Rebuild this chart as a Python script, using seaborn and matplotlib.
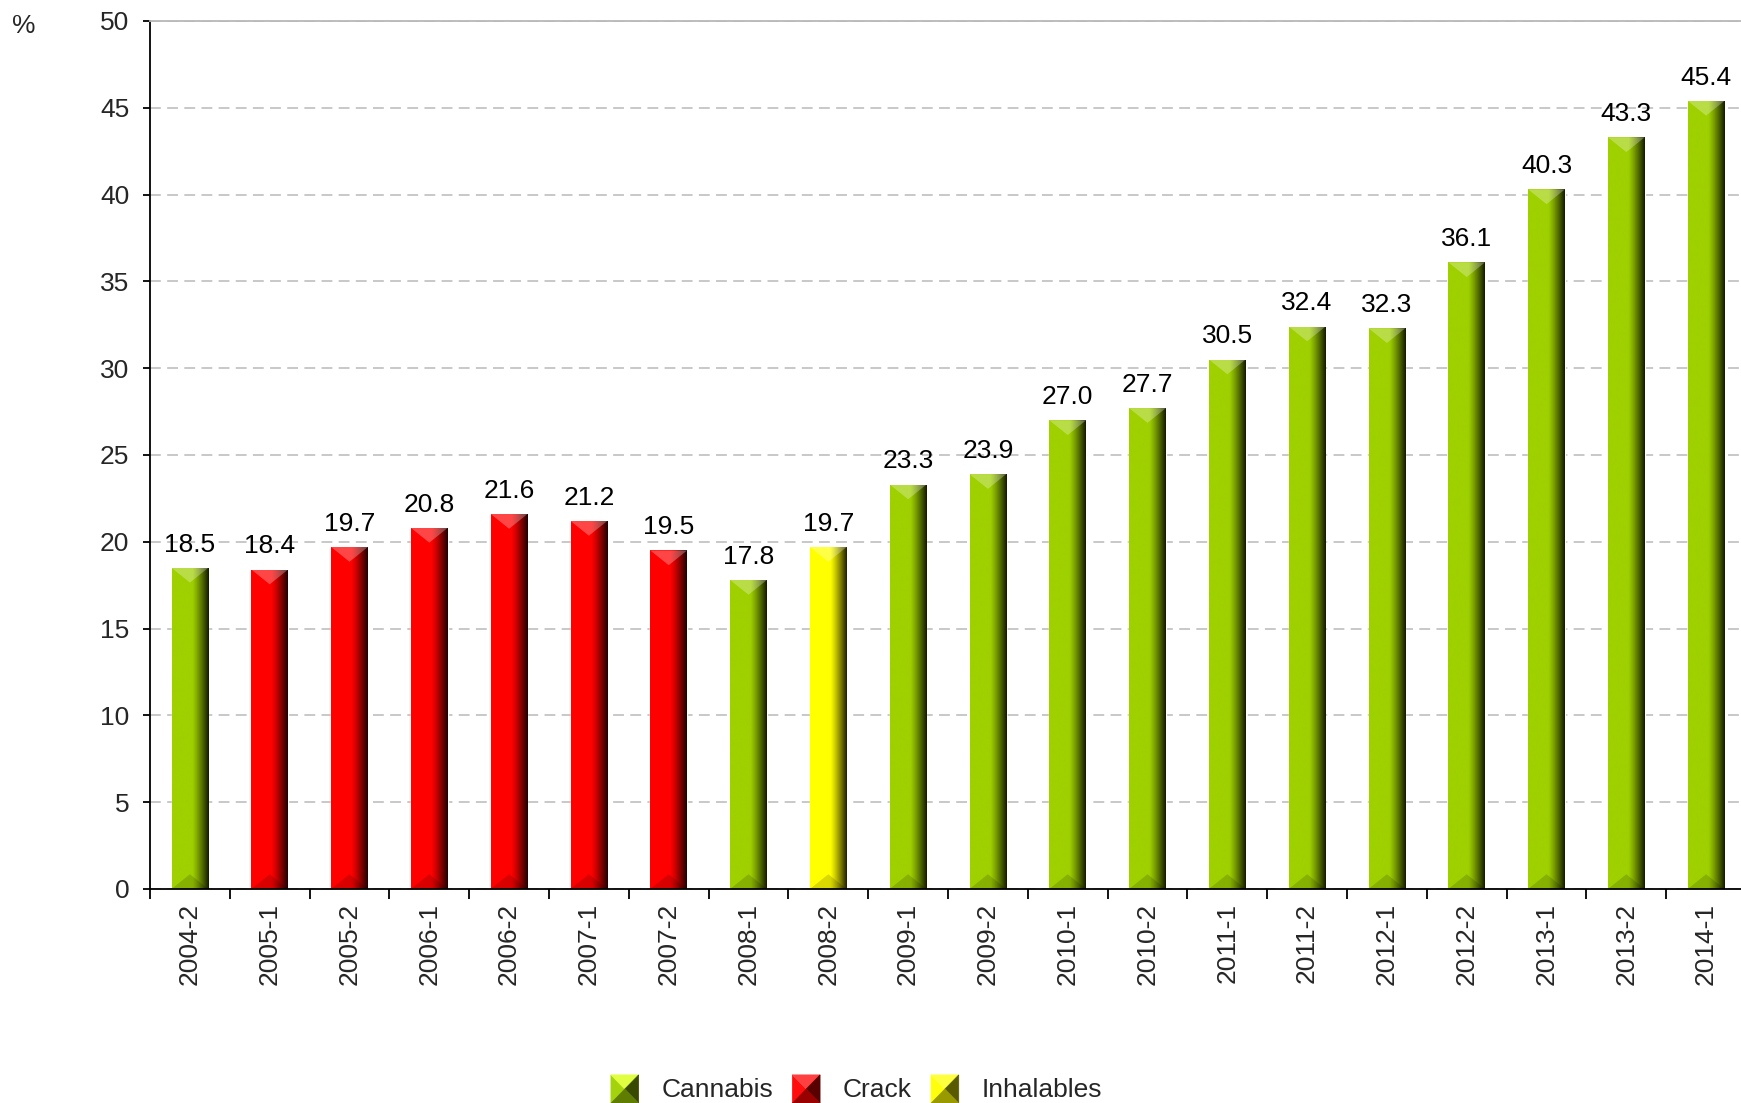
import numpy as np
import pandas as pd
import matplotlib
matplotlib.use("Agg")
import matplotlib.pyplot as plt
from matplotlib.colors import to_rgb
from matplotlib.patches import Polygon, Patch
from matplotlib.legend_handler import HandlerBase
import seaborn as sns

# data
periods = ["2004-2", "2005-1", "2005-2", "2006-1", "2006-2", "2007-1", "2007-2",
           "2008-1", "2008-2", "2009-1", "2009-2", "2010-1", "2010-2", "2011-1",
           "2011-2", "2012-1", "2012-2", "2013-1", "2013-2", "2014-1"]
values = [18.5, 18.4, 19.7, 20.8, 21.6, 21.2, 19.5, 17.8, 19.7, 23.3,
          23.9, 27.0, 27.7, 30.5, 32.4, 32.3, 36.1, 40.3, 43.3, 45.4]
substance = ["Cannabis", "Crack", "Crack", "Crack", "Crack", "Crack", "Crack",
             "Cannabis", "Inhalables", "Cannabis", "Cannabis", "Cannabis", "Cannabis",
             "Cannabis", "Cannabis", "Cannabis", "Cannabis", "Cannabis", "Cannabis",
             "Cannabis"]
substances = ["Cannabis", "Crack", "Inhalables"]
colors = {"Cannabis": "#9fd000", "Crack": "#ff0000", "Inhalables": "#ffff00"}

FS = 19

sns.set_theme(style="white")
plt.rcParams['font.family'] = ['Liberation Sans', 'DejaVu Sans']

W, H = 1741, 1103
fig = plt.figure(figsize=(W / 100, H / 100), dpi=100)
ax = fig.add_axes([150 / W, 1 - 889 / H, 1596 / W, 868 / H])

df = pd.DataFrame({"period": periods, "value": values, "substance": substance})
sns.barplot(data=df, x="period", y="value", hue="substance", hue_order=substances,
            order=periods, palette=colors, dodge=False, width=0.46, saturation=1,
            legend=False, ax=ax)

# horizontal shading of the pseudo-3D bars
t = np.linspace(0, 1, 200)
shade = np.where(t < 0.55, 1.0, 1.0 - 0.88 * ((t - 0.55) / 0.45) ** 1.2)
bevel = 0.85

for p in list(ax.patches):
    h = p.get_height()
    if not h or np.isnan(h):
        continue
    x0, w = p.get_x(), p.get_width()
    base = np.array(to_rgb(p.get_facecolor()))
    img = base[None, None, :] * shade[None, :, None]
    im = ax.imshow(img, extent=[x0, x0 + w, 0, h], aspect='auto',
                   interpolation='bilinear', zorder=2)
    im.set_clip_path(p)
    top = Polygon([(x0, h), (x0 + w, h), (x0 + w / 2, h - bevel)],
                  closed=True, facecolor='white', alpha=0.28, lw=0, zorder=3)
    ax.add_patch(top)
    bot = Polygon([(x0, 0), (x0 + w, 0), (x0 + w / 2, bevel)],
                  closed=True, facecolor='black', alpha=0.15, lw=0, zorder=3)
    ax.add_patch(bot)

for i, v in enumerate(values):
    ax.annotate(f"{v:.1f}", (i, v), xytext=(0, 8), textcoords='offset points',
                ha='center', va='bottom', fontsize=FS, color='black', zorder=5)

ax.set_xlim(-0.5, len(periods) - 0.5)
ax.set_ylim(0, 50)
ax.set_yticks(range(0, 51, 5))
ax.set_xticks(range(len(periods)))
ax.set_xticklabels(periods, rotation=90, va='top', ha='center')
ax.set_xticks(np.arange(-0.5, len(periods), 1), minor=True)
ax.set_xlabel("")
ax.set_ylabel("")

ax.tick_params(axis='x', which='major', length=0, pad=10, labelsize=FS, bottom=True)
ax.tick_params(axis='x', which='minor', length=7, width=1.3, color='black',
               direction='out', bottom=True)
ax.tick_params(axis='y', length=5, width=1.3, color='black', pad=10,
               labelsize=FS, left=True, direction='out')

ax.set_axisbelow(True)
ax.yaxis.grid(True, linestyle=(0, (6, 3.5)), color='#c4c4c4', lw=1.3)
for s in ["left", "bottom"]:
    ax.spines[s].set_color('black')
    ax.spines[s].set_linewidth(1.3)
ax.spines["top"].set_color('#b8b8b8')
ax.spines["top"].set_linewidth(1.3)
ax.spines["right"].set_visible(False)

fig.text(24 / W, 1 - 26 / H, "%", ha='center', va='center', fontsize=FS)


class BevelHandler(HandlerBase):
    def create_artists(self, legend, orig_handle, xdescent, ydescent,
                       width, height, fontsize, trans):
        c = np.array(to_rgb(orig_handle.get_facecolor()))
        x0, y0 = -xdescent, -ydescent - 0.15 * height
        height = height * 1.2
        cx, cy = x0 + width / 2, y0 + height / 2
        corners = [(x0, y0), (x0, y0 + height), (x0 + width, y0 + height), (x0 + width, y0)]
        faces = [
            (corners[0], corners[1], np.clip(c * 0.95 + 0.05, 0, 1)),   # left
            (corners[1], corners[2], np.clip(c + 0.25, 0, 1)),          # top
            (corners[2], corners[3], c * 0.35),                         # right
            (corners[3], corners[0], c * 0.6),                          # bottom
        ]
        arts = []
        for a, b, col in faces:
            poly = Polygon([a, b, (cx, cy)], closed=True, facecolor=col,
                           edgecolor=col, lw=0.5, transform=trans)
            arts.append(poly)
        return arts


handles = [Patch(facecolor=colors[s], label=s) for s in substances]
fig.legend(handles=handles, labels=substances, loc='center',
           bbox_to_anchor=(0.492, 1 - 1089 / H), ncol=3, frameon=False,
           fontsize=FS, handlelength=1.05, handleheight=1.0,
           handletextpad=0.87, columnspacing=0.72,
           handler_map={Patch: BevelHandler()})

fig.savefig("out.png", dpi=100)
